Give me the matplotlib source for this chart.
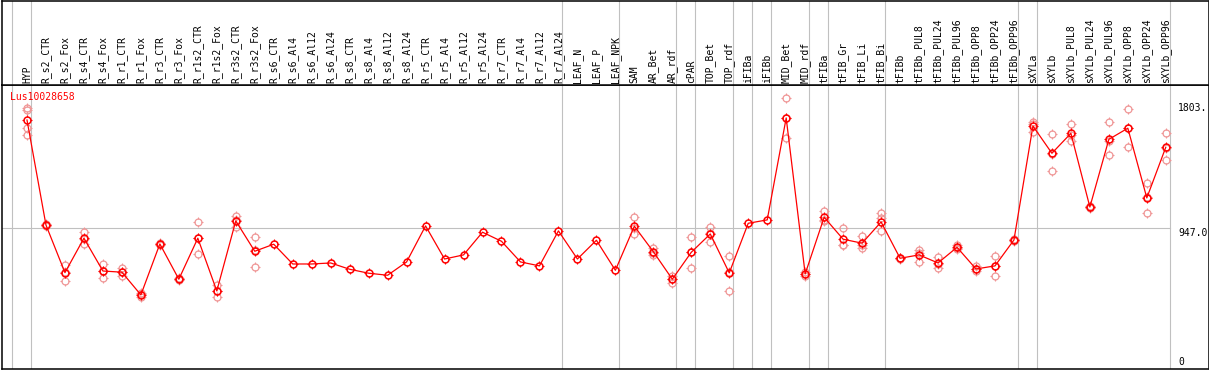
"""
Expression profile of Lus10028658 across tissues / treatments:
mean per sample (red line) with the individual replicates (pale circles).
"""
import numpy as np
import matplotlib as mpl
import matplotlib.pyplot as plt
from matplotlib.path import Path

mpl.rcParams.update({"font.family": "DejaVu Sans Mono", "font.size": 7})

gene = "Lus10028658"
samples = ["HYP",
    "R_s2_CTR", "R_s2_Fox", "R_s4_CTR", "R_s4_Fox", "R_r1_CTR", "R_r1_Fox",
    "R_r3_CTR", "R_r3_Fox", "R_r1s2_CTR", "R_r1s2_Fox", "R_r3s2_CTR", "R_r3s2_Fox",
    "R_s6_CTR", "R_s6_Al4", "R_s6_Al12", "R_s6_Al24", "R_s8_CTR", "R_s8_Al4",
    "R_s8_Al12", "R_s8_Al24", "R_r5_CTR", "R_r5_Al4", "R_r5_Al12", "R_r5_Al24",
    "R_r7_CTR", "R_r7_Al4", "R_r7_Al12", "R_r7_Al24",
    "LEAF_N", "LEAF_P", "LEAF_NPK", "SAM", "AR_Bet", "AR_rdf", "cPAR",
    "TOP_Bet", "TOP_rdf", "iFIBa", "iFIBb", "MID_Bet", "MID_rdf", "tFIBa",
    "tFIB_Gr", "tFIB_Li", "tFIB_Bi", "tFIBb", "tFIBb_PUL8", "tFIBb_PUL24",
    "tFIBb_PUL96", "tFIBb_OPP8", "tFIBb_OPP24", "tFIBb_OPP96", "sXYLa",
    "sXYLb", "sXYLb_PUL8", "sXYLb_PUL24", "sXYLb_PUL96", "sXYLb_OPP8",
    "sXYLb_OPP24", "sXYLb_OPP96"]
# number of samples in each group (separator drawn after each group)
group_sizes = [1, 28, 3, 3, 1, 2, 1, 1, 2, 1, 3, 7, 1, 7]

means = [1684, 967, 642, 877, 653, 645, 490, 838, 597, 877, 517, 995, 788,
         836, 701, 701, 708, 665, 638, 624, 715, 961, 735, 763, 918, 856,
         715, 688, 927, 735, 863, 658, 959, 785, 597, 781, 906, 640, 979,
         1002, 1698, 633, 1020, 870, 843, 988, 740, 763, 708, 815, 667, 688,
         865, 1643, 1457, 1593, 1090, 1552, 1628, 1152, 1498]
reps = [[1764, 1752, 1627, 1581], [972, 961, 968], [694, 645, 587],
        [922, 873, 836], [701, 655, 603], [672, 644, 619], [501, 495, 474],
        [845, 838, 831], [602, 597, 592], [986, 878, 767], [558, 515, 478],
        [1031, 998, 956], [884, 797, 683],
        [], [], [], [], [], [], [], [], [], [], [], [], [], [], [], [],
        [], [], [],
        [1022, 949, 906], [813, 779, 763], [619, 599, 573], [886, 785, 672],
        [954, 911, 853], [756, 647, 517], [], [], [1832, 1699, 1563],
        [647, 633, 619], [1063, 1002, 995], [947, 832, 828], [892, 830, 808],
        [1049, 1013, 924], [745, 740, 735], [797, 775, 717], [751, 701, 672],
        [829, 812, 804], [686, 664, 651], [756, 687, 621], [870, 865, 860],
        [1669, 1655, 1605], [1587, 1450, 1334], [1655, 1583, 1541],
        [1095, 1090, 1085], [1669, 1544, 1443], [1757, 1629, 1498],
        [1252, 1157, 1047], [1593, 1492, 1409]]
ref_value = 947.0
ticks = [0, 947.0, 1803]
tick_labels = ["0", "947.0", "1803."]

RED, PALE, GRID = "#ff0000", "#f09696", "#c0c0c0"
W, H = 1209, 370
x = np.arange(len(samples))
xlim = (-1.343, 62.25)
bounds = np.concatenate([[-1], np.cumsum(group_sizes) - 1]) + 0.2

# circle with four little ticks, like the original bitmap marker
ticks_path = Path([(0, .72), (0, 1), (0, -.72), (0, -1), (.72, 0), (1, 0), (-.72, 0), (-1, 0)],
                  [Path.MOVETO, Path.LINETO] * 4)

fig = plt.figure(figsize=(W / 100, H / 100), dpi=100)
ax = fig.add_axes([1.5 / W, 1 / H, 1207 / W, 284 / H])
axh = fig.add_axes([1.5 / W, 285 / H, 1207 / W, 84.5 / H], sharex=ax)

for a in (ax, axh):
    for b in bounds:
        a.axvline(b, color=GRID, lw=0.8, zorder=0)
    for s in a.spines.values():
        s.set_linewidth(1.1)
    a.tick_params(left=False, bottom=False, labelleft=False, labelbottom=False)
ax.set_xlim(*xlim)
ax.set_ylim(-16, 1923)
axh.set_ylim(0, 1)

ax.plot([xlim[0], bounds[-1]], [ref_value, ref_value], color=GRID, lw=0.8, zorder=0)

for i, r in enumerate(reps):
    xs = np.full(len(r), i)
    ax.plot(xs, r, ls="none", marker="o", ms=5, mfc="none", mec=PALE, mew=0.9, zorder=2)
    ax.plot(xs, r, ls="none", marker=ticks_path, ms=7, mec=PALE, mew=0.8, zorder=2)

ax.plot(x, means, color=RED, lw=0.9, zorder=3)
ax.plot(x, means, ls="none", marker="o", ms=5, mfc="none", mec=RED, mew=1.1, zorder=4)
ax.plot(x, means, ls="none", marker=ticks_path, ms=7, mec=RED, mew=0.8, zorder=4)

for v, lab in zip(ticks, tick_labels):
    ax.text(60.64, v, lab, ha="left", va="bottom" if v == 0 else "top", fontsize=7)

ax.text(8.5 / 1207, 0.959, gene, transform=ax.transAxes, color=RED,
        ha="left", va="center", fontsize=7)

for i, s in enumerate(samples):
    axh.text(i, 0.024, s, rotation=90, ha="center", va="bottom", fontsize=7)

fig.savefig("out.png", dpi=100)
